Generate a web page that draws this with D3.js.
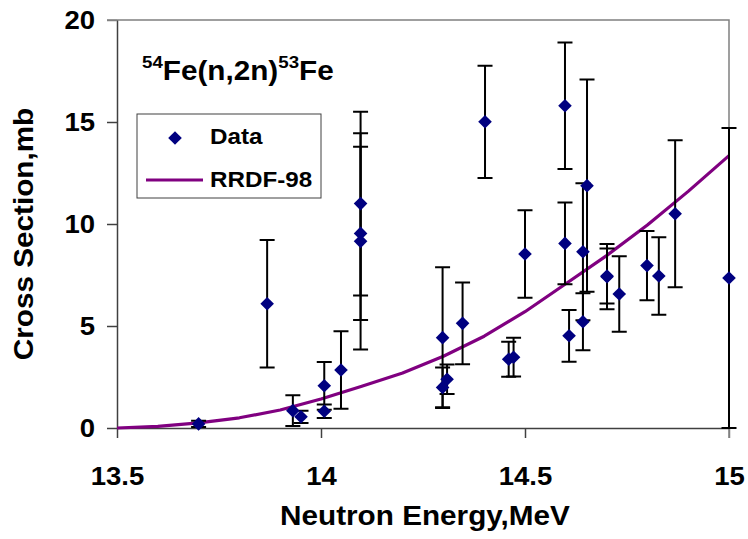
<!DOCTYPE html>
<html>
<head>
<meta charset="utf-8">
<script src="https://cdn.jsdelivr.net/npm/d3@7/dist/d3.min.js"></script>
<style>
  html, body { margin: 0; padding: 0; background: #fff; }
  svg text { font-family: "Liberation Sans", Arial, sans-serif; font-weight: bold; fill: #000; }
</style>
</head>
<body>
<svg id="chart" width="748" height="539"></svg>
<script>
// Measured 54Fe(n,2n)53Fe cross sections: energy (MeV), value (mb), uncertainty (mb)
const energy = [13.70, 13.868, 13.931, 13.951, 14.008, 14.008, 14.049,
  14.097, 14.097, 14.097, 14.298, 14.298, 14.309, 14.347, 14.402,
  14.460, 14.472, 14.500, 14.598, 14.598, 14.608, 14.652, 14.642, 14.642,
  14.701, 14.701, 14.731, 14.799, 14.828, 14.868, 15.0];
const crossSection = [0.2, 6.09, 0.85, 0.55, 2.07, 0.82, 2.84,
  11.0, 9.54, 9.15, 4.43, 1.99, 2.39, 5.13, 15.01,
  3.37, 3.47, 8.53, 15.8, 9.05, 4.52, 11.88, 8.64, 5.21,
  7.42, 7.45, 6.57, 7.96, 7.45, 10.5, 7.35];
const uncertainty = [0.15, 3.13, 0.75, 0.3, 1.17, 0.33, 1.9,
  4.5, 4.25, 5.3, 3.45, 0.97, 0.72, 2.0, 2.75,
  0.86, 0.95, 2.15, 3.1, 2.0, 1.27, 5.2, 3.36, 1.4,
  1.6, 1.35, 1.85, 1.7, 1.9, 3.6, 7.35];

// RRDF-98 evaluation
const evalEnergy = [13.5, 13.6, 13.7, 13.8, 13.9, 14.0, 14.1, 14.2, 14.3,
  14.4, 14.5, 14.6, 14.7, 14.8, 14.9, 15.0];
const evalCrossSection = [0, 0.08, 0.25, 0.5, 0.88, 1.42, 2.05, 2.7, 3.52,
  4.5, 5.7, 7.07, 8.45, 9.95, 11.6, 13.35];

const xTicks = [13.5, 14, 14.5, 15];
const yTicks = [0, 5, 10, 15, 20];

const svg = d3.select("#chart");
const plotLeft = 117, plotRight = 729, plotTop = 20, plotBottom = 428;
const stretch = 1.1;

const x = d3.scaleLinear().domain([13.5, 15]).range([plotLeft, plotRight]);
const y = d3.scaleLinear().domain([0, 20]).range([plotBottom, plotTop]);

// plot frame (top and right edges)
svg.append("path")
  .attr("d", `M${plotLeft - 10},${plotTop}H${plotRight}V${plotBottom + 10}`)
  .attr("fill", "none").attr("stroke", "#808080").attr("stroke-width", 1.5);

// y axis
const gy = svg.append("g").attr("transform", `translate(${plotLeft},0)`)
  .call(d3.axisLeft(y).tickValues(yTicks).tickSize(10).tickSizeOuter(0).tickPadding(0));
gy.attr("font-family", null).attr("font-size", null);
gy.select(".domain").attr("stroke", "#404040").attr("stroke-width", 1.5);
gy.selectAll(".tick line").attr("stroke", d => d === 20 ? "#808080" : "#404040").attr("stroke-width", 1.5);
gy.selectAll(".tick text")
  .attr("x", null).attr("dy", "0.35em")
  .attr("transform", `translate(-22,0) scale(${stretch},1)`)
  .style("font-size", "25px")
  .attr("fill", "#000");

// x axis
const gx = svg.append("g").attr("transform", `translate(0,${plotBottom})`)
  .call(d3.axisBottom(x).tickValues(xTicks).tickSize(10).tickSizeOuter(0)
    .tickFormat(d3.format("")));
gx.attr("font-family", null).attr("font-size", null);
gx.select(".domain").attr("stroke", "#404040").attr("stroke-width", 1.5);
gx.selectAll(".tick line").attr("stroke", d => d === 15 ? "#808080" : "#404040").attr("stroke-width", 1.5);
gx.selectAll(".tick text")
  .attr("y", null).attr("dy", null)
  .attr("transform", `translate(0,57) scale(${stretch},1)`)
  .style("font-size", "25px")
  .attr("fill", "#000");

// axis titles
svg.append("text")
  .attr("transform", `translate(425,525) scale(${stretch},1)`)
  .attr("text-anchor", "middle").style("font-size", "27px")
  .text("Neutron Energy,MeV");
svg.append("text")
  .attr("transform", `translate(33,234) rotate(-90) scale(${stretch},1)`)
  .attr("text-anchor", "middle").style("font-size", "27px")
  .text("Cross Section,mb");

// reaction label
const title = svg.append("text")
  .attr("transform", `translate(142,80) scale(${stretch},1)`)
  .style("font-size", "27px");
title.append("tspan").attr("dy", -12).style("font-size", "17px").text("54");
title.append("tspan").attr("dy", 12).text("Fe(n,2n)");
title.append("tspan").attr("dy", -12).style("font-size", "17px").text("53");
title.append("tspan").attr("dy", 12).text("Fe");

// evaluation curve
const line = d3.line().x(d => x(d[0])).y(d => y(d[1]));
svg.append("path")
  .datum(d3.zip(evalEnergy, evalCrossSection))
  .attr("d", line)
  .attr("fill", "none").attr("stroke", "#800080").attr("stroke-width", 3.2)
  .attr("stroke-linejoin", "round");

// error bars
const points = d3.zip(energy, crossSection, uncertainty);
const capHalf = 7.5;
const eb = svg.append("g").attr("stroke", "#000").attr("stroke-width", 2).attr("fill", "none");
points.forEach(([e, v, u]) => {
  const cx = x(e), y1 = y(v + u), y0 = y(Math.max(0, v - u));
  eb.append("path")
    .attr("d", `M${cx},${y1}V${y0}M${cx - capHalf},${y1}H${cx + capHalf}M${cx - capHalf},${y0}H${cx + capHalf}`);
});

// markers
const diamond = r => `M0,${-r}L${r},0L0,${r}L${-r},0Z`;
svg.append("g").selectAll("path").data(points).join("path")
  .attr("transform", d => `translate(${x(d[0])},${y(d[1])})`)
  .attr("d", diamond(6.8))
  .attr("fill", "#000080");

// legend
const lg = svg.append("g");
lg.append("rect").attr("x", 137).attr("y", 114).attr("width", 184).attr("height", 84)
  .attr("fill", "#fff").attr("stroke", "#404040").attr("stroke-width", 1);
lg.append("path").attr("transform", "translate(175,138)").attr("d", diamond(6.8)).attr("fill", "#000080");
lg.append("text").attr("transform", `translate(210,144) scale(${stretch},1)`)
  .style("font-size", "22px").text("Data");
lg.append("line").attr("x1", 146).attr("x2", 203).attr("y1", 180).attr("y2", 180)
  .attr("stroke", "#800080").attr("stroke-width", 3.2);
lg.append("text").attr("transform", `translate(210,187) scale(${stretch},1)`)
  .style("font-size", "22px").text("RRDF-98");
</script>
</body>
</html>
